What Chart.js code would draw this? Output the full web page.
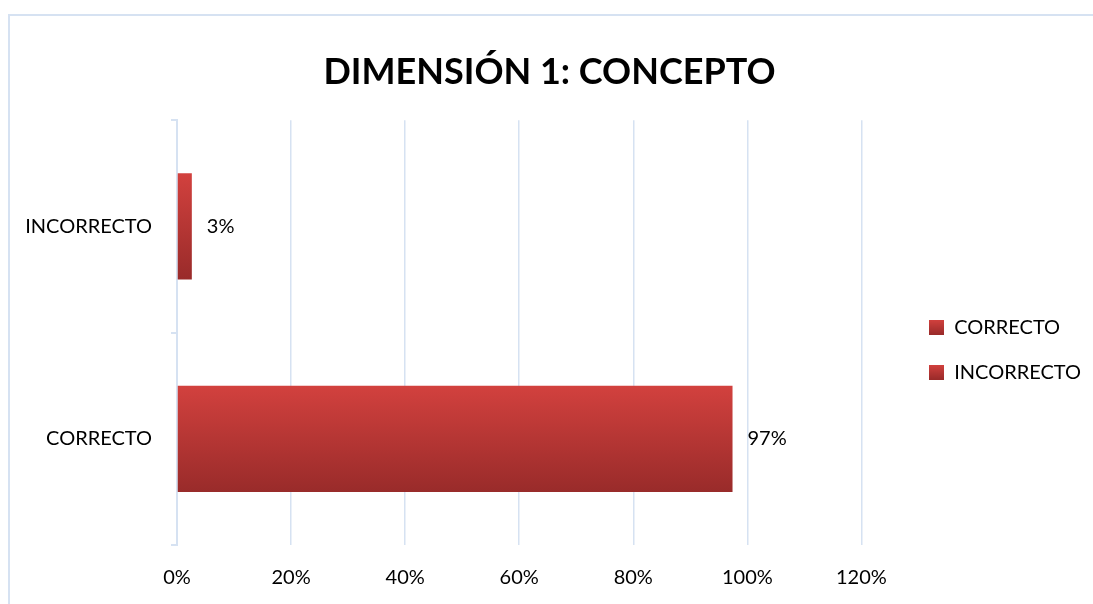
<!DOCTYPE html>
<html>
<head>
<meta charset="utf-8">
<script src="https://cdn.jsdelivr.net/npm/chart.js@4.4.1/dist/chart.umd.min.js"></script>
<style>
  body { margin: 0; background: #fff; }
</style>
</head>
<body>
<canvas id="dimChart" width="1093" height="604"></canvas>
<script>
const categories = ['INCORRECTO', 'CORRECTO'];
const percentages = [2.6, 97.4];
const legendOrder = ['CORRECTO', 'INCORRECTO'];
const xTickValues = [0, 20, 40, 60, 80, 100, 120];

const paleBlue = '#d6e2f2';
const redTop = '#d2413e';
const redBottom = '#992b2a';
const redMid = '#b93735';
const font = 'Lato';

// vertical red gradient for each bar, like the original
function barGradient(context) {
  const chart = context.chart;
  const yScale = chart.scales.y;
  if (context.type !== 'data' || !chart.chartArea || !yScale) return redMid;
  const center = yScale.getPixelForValue(context.dataIndex);
  const half = yScale.height / categories.length * 0.25;
  const g = chart.ctx.createLinearGradient(0, center - half, 0, center + half);
  g.addColorStop(0, redTop);
  g.addColorStop(1, redBottom);
  return g;
}

// small gradient square used as the legend marker
const swatch = document.createElement('canvas');
swatch.width = 15;
swatch.height = 15;
(function () {
  const sctx = swatch.getContext('2d');
  const g = sctx.createLinearGradient(0, 0, 0, 15);
  g.addColorStop(0, redTop);
  g.addColorStop(1, redBottom);
  sctx.fillStyle = g;
  sctx.fillRect(0, 0, 15, 15);
})();

const valueLabels = {
  id: 'valueLabels',
  afterDatasetsDraw(chart) {
    const ctx = chart.ctx;
    const meta = chart.getDatasetMeta(0);
    ctx.save();
    ctx.font = '20px ' + font;
    ctx.fillStyle = '#000';
    ctx.textAlign = 'left';
    ctx.textBaseline = 'middle';
    meta.data.forEach((bar, i) => {
      ctx.fillText(Math.round(percentages[i]) + '%', bar.x + 15, bar.y);
    });
    ctx.restore();
  }
};

const frame = {
  id: 'frame',
  beforeDraw(chart) {
    const ctx = chart.ctx;
    ctx.save();
    ctx.strokeStyle = paleBlue;
    ctx.lineWidth = 2;
    ctx.strokeRect(9, 15, chart.width + 20, chart.height + 20);
    ctx.restore();
  }
};

const barData = {
  labels: categories,
  datasets: [
    {
      label: 'Dimensión 1',
      data: percentages,
      backgroundColor: barGradient,
      barPercentage: 0.5,
      categoryPercentage: 1
    }
  ]
};

const barConfig = {
  type: 'bar',
  data: barData,
  options: {
    indexAxis: 'y',
    responsive: false,
    animation: false,
    layout: {
      padding: { left: 8, right: 2, top: 0, bottom: 15 }
    },
    scales: {
      x: {
        min: 0,
        max: 127.5,
        afterBuildTicks: (scale) => {
          scale.ticks = xTickValues.map(v => ({ value: v }));
        },
        afterFit: (scale) => { scale.height = 44; },
        ticks: {
          callback: (v) => v + '%',
          color: '#000',
          padding: 21,
          font: { family: font, size: 20 }
        },
        grid: { color: paleBlue, lineWidth: 1.5, drawTicks: false },
        border: { display: false }
      },
      y: {
        afterFit: (scale) => { scale.width = 169; },
        ticks: {
          color: '#000',
          padding: 19,
          font: { family: font, size: 20 }
        },
        grid: {
          drawOnChartArea: false,
          offset: true,
          tickLength: 6,
          color: paleBlue,
          lineWidth: 2
        },
        border: { color: paleBlue, width: 2 }
      }
    },
    plugins: {
      title: {
        display: true,
        text: 'DIMENSIÓN 1: CONCEPTO',
        color: '#000',
        font: { family: font, size: 36, weight: 'bold', lineHeight: 1.2 },
        padding: { top: 51, bottom: 26 }
      },
      legend: {
        position: 'right',
        // empty title only pushes the entries down to the plot middle
        title: {
          display: true,
          text: '',
          font: { family: font, size: 12, lineHeight: 1.2 },
          padding: { top: 96, bottom: 0 }
        },
        labels: {
          usePointStyle: true,
          pointStyleWidth: 15,
          boxHeight: 15,
          padding: 25,
          color: '#000',
          font: { family: font, size: 20 },
          generateLabels: () => legendOrder.map((text, i) => ({
            text: text,
            fillStyle: redMid,
            strokeStyle: redMid,
            fontColor: '#000',
            pointStyle: swatch,
            lineWidth: 0,
            hidden: false,
            index: i
          }))
        }
      },
      tooltip: { enabled: false }
    }
  },
  plugins: [frame, valueLabels]
};

const dimChart = new Chart(
  document.getElementById('dimChart'),
  barConfig
);
</script>
</body>
</html>
